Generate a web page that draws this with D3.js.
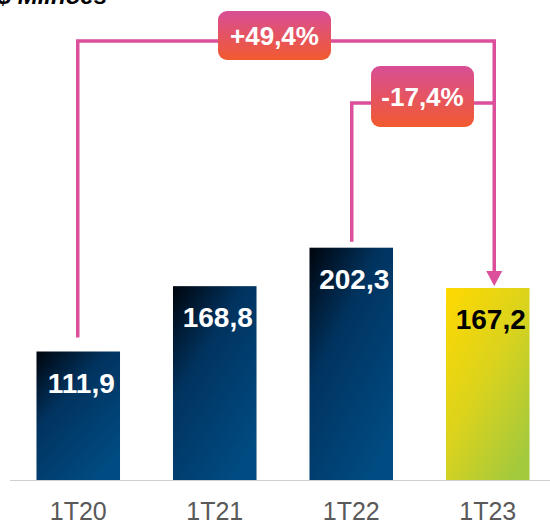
<!DOCTYPE html>
<html><head><meta charset="utf-8">
<script src="https://cdn.jsdelivr.net/npm/d3@7"></script>
<style>body{margin:0;background:#fff}svg{display:block}</style>
</head><body>
<script>
const categories = ["1T20", "1T21", "1T22", "1T23"];
const values = [111.9, 168.8, 202.3, 167.2];
const valueLabels = ["111,9", "168,8", "202,3", "167,2"];
const changes = [
  {from: "1T20", to: "1T23", label: "+49,4%"},
  {from: "1T22", to: "1T23", label: "-17,4%"}
];
const unitTitle = "R$ Milhões";

const W = 550, H = 522;
const svg = d3.select("body").append("svg").attr("width", W).attr("height", H);
const defs = svg.append("defs");

const gBlue = defs.append("linearGradient").attr("id", "gBlue")
  .attr("x1", 0).attr("y1", 0).attr("x2", 0.7).attr("y2", 1);
gBlue.append("stop").attr("offset", 0).attr("stop-color", "#00050d");
gBlue.append("stop").attr("offset", 0.4).attr("stop-color", "#01335f");
gBlue.append("stop").attr("offset", 1).attr("stop-color", "#004b82");

const gYellow = defs.append("linearGradient").attr("id", "gYellow")
  .attr("x1", 0).attr("y1", 0).attr("x2", 0.8).attr("y2", 1);
gYellow.append("stop").attr("offset", 0).attr("stop-color", "#ffd900");
gYellow.append("stop").attr("offset", 0.5).attr("stop-color", "#dcd31c");
gYellow.append("stop").attr("offset", 1).attr("stop-color", "#a3c93d");

const gBox = defs.append("linearGradient").attr("id", "gBox")
  .attr("x1", 0).attr("y1", 0).attr("x2", 0).attr("y2", 1);
gBox.append("stop").attr("offset", 0).attr("stop-color", "#d84e96");
gBox.append("stop").attr("offset", 1).attr("stop-color", "#f15a2e");

const x = d3.scaleBand().domain(categories).range([10, 556]).paddingInner(0.388).paddingOuter(0.194);
const y = d3.scaleLinear().domain([0, 418]).range([480, 0]);

// baseline
svg.append("line").attr("x1", 10).attr("x2", 550).attr("y1", 480.5).attr("y2", 480.5)
  .attr("stroke", "#cfcfcf").attr("stroke-width", 1);

// bars
svg.selectAll("rect.bar").data(categories).join("rect").attr("class", "bar")
  .attr("x", d => x(d)).attr("width", x.bandwidth())
  .attr("y", (d, i) => y(values[i])).attr("height", (d, i) => y(0) - y(values[i]))
  .attr("fill", (d, i) => i === 3 ? "url(#gYellow)" : "url(#gBlue)");

// value labels
svg.selectAll("text.val").data(categories).join("text").attr("class", "val")
  .attr("x", d => x(d) + x.bandwidth() / 2 + 3)
  .attr("y", (d, i) => y(values[i]) + 41)
  .attr("text-anchor", "middle")
  .attr("font-family", "Arial, 'Liberation Sans', sans-serif")
  .attr("font-weight", "bold").attr("font-size", 28)
  .attr("fill", (d, i) => i === 3 ? "#000" : "#fff")
  .text((d, i) => valueLabels[i]);

// category labels
svg.selectAll("text.cat").data(categories).join("text").attr("class", "cat")
  .attr("x", d => x(d) + x.bandwidth() / 2).attr("y", 520)
  .attr("text-anchor", "middle")
  .attr("font-family", "Arial, 'Liberation Sans', sans-serif")
  .attr("font-size", 25).attr("fill", "#595959")
  .text(d => d);

// title (partially cut off at top)
svg.append("text").attr("x", 107).attr("y", 4).attr("text-anchor", "end")
  .attr("font-family", "Arial, 'Liberation Sans', sans-serif")
  .attr("font-weight", "bold").attr("font-style", "italic").attr("font-size", 24)
  .attr("fill", "#000").text(unitTitle);

// connectors
const pink = "#dc4f9a";
const cx = c => x(c) + x.bandwidth() / 2;
const vOf = c => values[categories.indexOf(c)];
const rightX = cx("1T23") + 6.5;
const arrowTip = y(vOf("1T23")) - 2;

const conf = [
  {startX: cx("1T20") - 0.5, startY: y(vOf("1T20")) - 14, hy: 41,
   box: {x: 218, y: 11, w: 113, h: 49}},
  {startX: cx("1T22") + 0.5, startY: y(vOf("1T22")) - 6, hy: 103,
   box: {x: 371, y: 66, w: 103, h: 61}}
];

conf.forEach((c, i) => {
  const pts = i === 0
    ? [[c.startX, c.startY], [c.startX, c.hy], [rightX, c.hy], [rightX, arrowTip - 14]]
    : [[c.startX, c.startY], [c.startX, c.hy], [rightX, c.hy]];
  svg.append("path").attr("d", d3.line()(pts)).attr("fill", "none")
    .attr("stroke", pink).attr("stroke-width", 3.5);
});
// arrow head
svg.append("path")
  .attr("d", `M${rightX - 8},${arrowTip - 15} L${rightX + 8},${arrowTip - 15} L${rightX},${arrowTip} Z`)
  .attr("fill", pink);

conf.forEach((c, i) => {
  const b = c.box;
  svg.append("rect").attr("x", b.x).attr("y", b.y).attr("width", b.w).attr("height", b.h)
    .attr("rx", 9).attr("fill", "url(#gBox)");
  svg.append("text").attr("x", b.x + b.w / 2).attr("y", b.y + b.h / 2 + 9.5)
    .attr("text-anchor", "middle")
    .attr("font-family", "Arial, 'Liberation Sans', sans-serif")
    .attr("font-weight", "bold").attr("font-size", 26).attr("fill", "#fff")
    .text(changes[i].label);
});
</script>
</body></html>
